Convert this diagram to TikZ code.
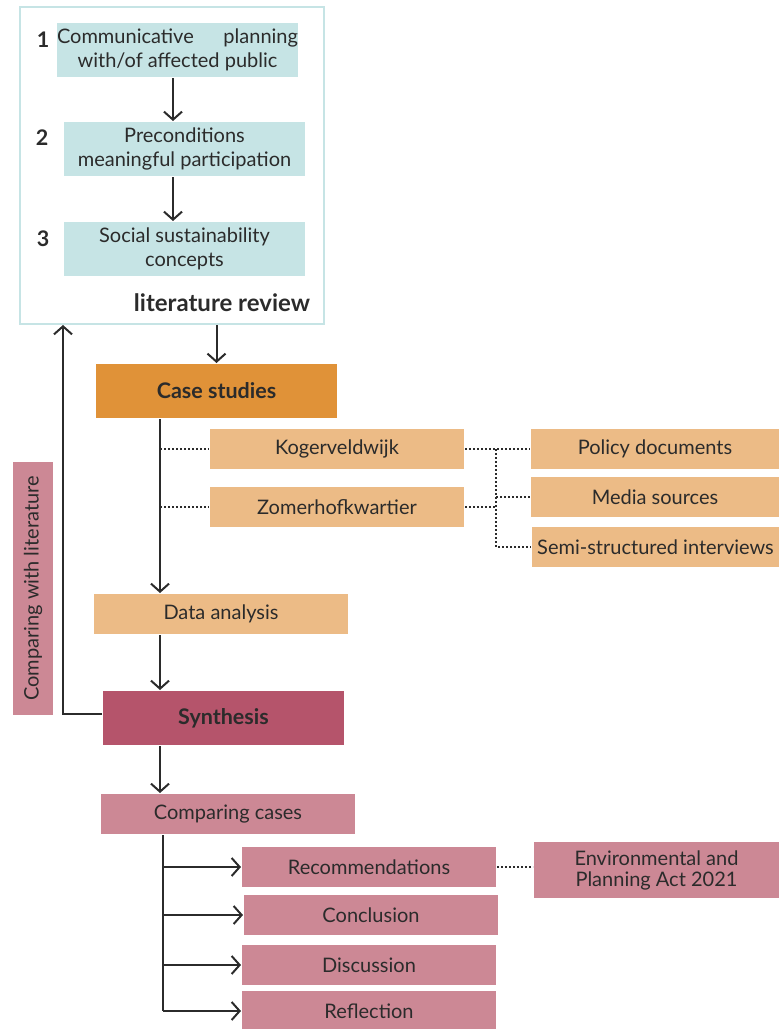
\documentclass[tikz,border=0pt]{standalone}
\usepackage{fontspec}
\setmainfont{Lato}
\usetikzlibrary{arrows.meta}

\definecolor{litblue}{HTML}{C6E4E5}
\definecolor{caseorange}{HTML}{E09238}
\definecolor{caselight}{HTML}{ECBB86}
\definecolor{synred}{HTML}{B5546B}
\definecolor{synpink}{HTML}{CC8895}
\definecolor{ink}{HTML}{2B2B2B}

\begin{document}
\begin{tikzpicture}[x=1pt,y=-1pt,->,>={Straight Barb[length=8pt,width=18pt]},
    line width=2pt,color=ink,
    every node/.style={font=\fontsize{20}{24}\selectfont,text=ink,inner sep=0pt,align=center},
    head/.style={font=\fontsize{21.5}{24}\selectfont\bfseries},
    litbox/.style={fill=litblue,minimum width=241pt,minimum height=54pt},
    wide/.style={minimum width=241pt,minimum height=54pt},
    slim/.style={minimum width=254pt,minimum height=40pt},
    source/.style={fill=caselight,minimum width=248pt,minimum height=40pt},
    dotline/.style={-,line width=1.8pt,dash pattern=on 1.8pt off 2.2pt}]
      \useasboundingbox (0,0) rectangle (779,1029);

      % literature review
      \node[draw=litblue,minimum width=304pt,minimum height=317pt] (lit) at (172,165.5) {};
      \node[litbox] (b1) at (177.5,50) {\makebox[241pt][s]{Communicative planning}\\with/of affected public};
      \node[litbox] (b2) at (184.5,149) {Preconditions\\meaningful participation};
      \node[litbox] (b3) at (184.5,249) {Social sustainability\\concepts};
      \node[head] (n1) at (43,40)  {1};
      \node[head] (n2) at (42,138) {2};
      \node[head] (n3) at (43,239) {3};
      \node[head,font=\fontsize{24}{28}\selectfont\bfseries,anchor=east] (litlabel) at (311,303) {literature review};

      % case studies
      \node[wide,head,fill=caseorange] (case) at (216.5,391) {Case studies};
      \node[slim,fill=caselight] (kog) at (337,449) {Kogerveldwijk};
      \node[slim,fill=caselight] (zom) at (337,507) {Zomerhofkwartier};
      \node[source] (pol)  at (655,449)   {Policy documents};
      \node[source] (med)  at (655,497)   {Media sources};
      \node[source] (semi) at (655.5,547) {Semi-structured interviews};
      \node[slim,fill=caselight] (data) at (221,614) {Data analysis};

      % synthesis
      \node[wide,head,fill=synred] (syn) at (223.5,718) {Synthesis};
      \node[fill=synpink,rotate=90,minimum width=253pt,minimum height=40pt] (cwl) at (33,588.5) {Comparing with literature};
      \node[slim,fill=synpink] (cc)  at (228,814)  {Comparing cases};
      \node[slim,fill=synpink] (rec) at (369,867)  {Recommendations};
      \node[slim,fill=synpink] (con) at (371,915)  {Conclusion};
      \node[slim,fill=synpink] (dis) at (369,965)  {Discussion};
      \node[slim,fill=synpink] (ref) at (369,1011) {Reflection};
      \node[fill=synpink,minimum width=245pt,minimum height=56pt,font=\fontsize{20}{21}\selectfont] (env) at (656.5,870) {Environmental and\\Planning Act 2021};

      \coordinate (spine)  at (160,0);
      \coordinate (fork)   at (163,0);
      \coordinate (branch) at (496,0);
      \coordinate (back)   at (63,0);

      \path
        ([xshift=-4.5pt]b1.south) edge ([xshift=-11.5pt]b2.north)
        ([xshift=-11.5pt]b2.south) edge ([xshift=-11.5pt]b3.north)
        (lit.south -| case.north) edge (case.north)
        (case.south -| spine) edge (data.north -| spine)
        (data.south -| spine) edge (syn.north -| spine)
        (syn.south -| spine) edge (cc.north -| spine);

      \draw ([yshift=4pt]syn.west) -| (lit.south -| back);

      \draw[-] (cc.south -| fork) -- (ref.west -| fork);
      \path
        (rec.west -| fork) edge (rec.west)
        (con.west -| fork) edge (con.west)
        (dis.west -| fork) edge (dis.west)
        (ref.west -| fork) edge (ref.west);

      \path[dotline]
        (kog.west -| spine) edge (kog.west)
        (zom.west -| spine) edge (zom.west)
        (kog.east) edge (pol.west)
        (zom.east) edge (zom.east -| branch)
        (pol.west -| branch) edge[to path={|- (\tikztotarget)}] (semi.west)
        (med.west -| branch) edge (med.west)
        (rec.east) edge (rec.east -| env.west);
    \end{tikzpicture}
\end{document}
